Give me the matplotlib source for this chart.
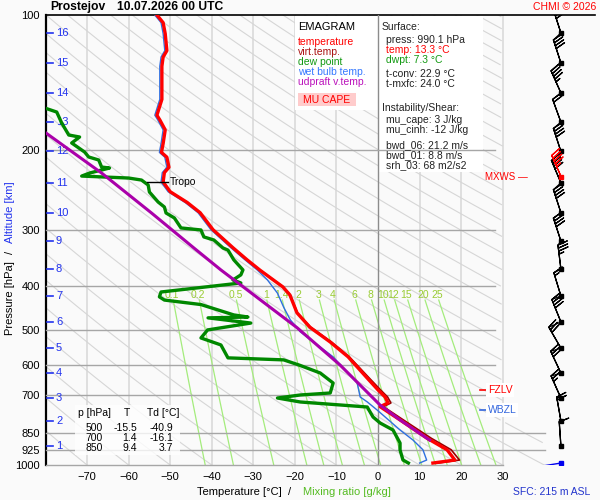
import numpy as np
import matplotlib
matplotlib.use("Agg")
import matplotlib.pyplot as plt
from matplotlib.patches import Rectangle
from matplotlib.ticker import NullLocator

plt.rcParams['font.family'] = ['Liberation Sans', 'DejaVu Sans']

# ---- sounding: Prostejov 10.07.2026 00 UTC ----
# temperature [hPa, degC]
temp_p = [100, 104, 110, 120, 124, 130, 142, 154, 167, 171, 180, 193, 202, 207,
          218, 224, 235, 247, 261, 275, 300, 329, 350, 369, 402, 419, 459, 494,
          533, 575, 641, 681, 706, 728, 742, 794, 872, 925, 975, 990]
temp_t = [-53.2, -51.7, -51.2, -50.8, -51.7, -52.0, -52.0, -52.0, -53.2, -52.5,
          -51.2, -51.7, -52.1, -50.8, -50.3, -51.4, -51.7, -50.0, -45.9, -42.8,
          -39.7, -34.9, -31.5, -28.4, -22.9, -21.2, -19.5, -16.4, -11.5, -7.2,
          -2.6, 0.0, 1.7, 2.4, 0.5, 5.3, 11.8, 16.6, 18.5, 13.2]

# virtual temperature
tv_t = [-53.2, -51.7, -51.2, -50.8, -51.7, -52.0, -52.0, -52.0, -53.2, -52.5,
        -51.2, -51.7, -52.1, -50.8, -50.3, -51.4, -51.7, -50.0, -45.9, -42.8,
        -39.7, -34.9, -31.5, -28.4, -22.8, -21.1, -19.4, -16.2, -11.2, -6.9,
        -2.1, 0.6, 2.3, 3.1, 1.3, 6.1, 12.8, 17.6, 19.6, 14.4]

# dew point
dwpt_p = [160, 164.3, 173.8, 184.8, 186.7, 192.5, 201.6, 206.8, 210.0, 217.7,
          218.8, 224.5, 228.0, 230.3, 232.7, 238.7, 247.4, 260.4, 267.1, 275.4,
          282.5, 297.3, 300.4, 311.3, 316.2, 329.4, 333, 350, 368.6, 378, 388,
          394, 412.6, 423, 430, 440, 464, 469, 471, 483.7, 501, 522, 541, 578,
          584, 600, 624.6, 657.4, 691.8, 698.9, 709.8, 724.4, 743.2, 782.2,
          806.6, 836.0, 893.6, 926.2, 974.7, 990]
dwpt_t = [-81.0, -77.3, -76.1, -74.4, -71.8, -73.7, -70.6, -69.6, -67.2, -66.5,
          -64.6, -69.4, -71.3, -60.0, -56.9, -55.3, -55.0, -52.9, -51.4, -51.0,
          -49.0, -47.4, -42.6, -41.9, -39.5, -37.3, -36.1, -34.7, -32.5, -33.0,
          -34.9, -33.0, -52.2, -52.6, -51.4, -42.6, -34.7, -31.3, -40.9, -30.6,
          -41.0, -42.6, -37.8, -36.1, -22.7, -18.9, -13.9, -10.8, -11.5, -18.7,
          -24.2, -18.7, -2.6, -1.2, 0.5, 3.6, 5.3, 5.3, 6.0, 7.3]

# wet bulb temperature
wb_p = [100, 104, 110, 120, 124, 130, 142, 154, 167, 171, 180, 193, 202, 207,
        218, 224, 235, 247, 261, 275, 300, 329, 350, 369, 388, 415, 446, 476,
        496, 506, 575, 658, 706, 724, 755, 836, 880, 925, 975, 990]
wb_t = [-53.7, -52.2, -51.7, -51.3, -52.2, -52.5, -52.5, -52.5, -53.7, -53.0,
        -51.7, -52.2, -52.6, -51.3, -50.8, -51.9, -52.2, -50.5, -46.4, -43.3,
        -40.2, -35.4, -32.0, -29.0, -26.6, -24.2, -22.7, -21.1, -19.4, -18.7,
        -10.8, -5.0, -4.3, -2.6, -0.2, 5.3, 8.4, 10.8, 11.7, 10.0]

# most unstable parcel (updraft virtual temperature)
parcel_p = [182.6, 224.5, 275.4, 329.4, 368.6, 496, 600, 736, 794, 880]
parcel_t = [-80.0, -66.5, -54.5, -44.3, -37.8, -19.4, -9.1, 0.5, 5.3, 12.4]

# wind at 1..16 km (pressure of each km level), direction [deg], speed [m/s]
km_levels = list(range(1, 17))
km_p = [907, 798, 710, 625, 550, 481, 421, 367, 318, 275, 236, 201, 173, 149,
        127.8, 109.6]
wind_dir = [356, 350, 336, 335, 330, 338, 343, 353, 342, 342, 337, 342, 340,
            336, 342, 342]
wind_spd = [5, 10, 12.5, 15, 15, 20, 7.5, 17.5, 20, 20, 20, 20, 10, 22.5, 20, 20]
mxws_p, mxws_dir, mxws_spd = 229, 336, 22.5
sfc_p, sfc_dir = 990.1, 261

tropo_p = 235
fzlv_p = 681
wbzl_p = 755

table_p = [500, 700, 850]
table_t = [-15.5, 1.4, 9.4]
table_td = [-40.9, -16.1, 3.7]

pressure_ticks = [100, 200, 300, 400, 500, 600, 700, 850, 925, 1000]
temp_ticks = list(range(-70, 31, 10))
mix_ratios = [0.1, 0.2, 0.5, 1, 1.4, 2, 3, 4, 6, 8, 10, 12, 15, 20, 25]
mix_labels = ['0.1', '0.2', '0.5', '1', '1.4', '2', '3', '4', '6', '8', '10',
              '12', '15', '20', '25']

W, H = 600, 500


def fx(x):
    return x / W


def fy(y):
    return 1 - y / H


bg = '#fafafa'
fig = plt.figure(figsize=(6, 5), dpi=100, facecolor=bg)
ax = fig.add_axes([fx(45.5), fy(465), (595 - 45.5) / W, 450 / H])
ax.set_facecolor(bg)
ax.set_yscale('log')
ax.set_ylim(1000, 100)
ax.set_xlim(-80, 52.2)

for s in ['right', 'bottom']:
    ax.spines[s].set_visible(False)
ax.spines['left'].set_linewidth(1.6)
ax.spines['top'].set_linewidth(1.2)
ax.set_yticks(pressure_ticks)
ax.set_yticklabels([str(p) for p in pressure_ticks])
ax.yaxis.set_minor_locator(NullLocator())
ax.set_xticks(temp_ticks)
ax.tick_params(axis='y', length=0, pad=4, labelsize=8)
ax.tick_params(axis='x', length=0, pad=5, labelsize=8)

# isotherms
for t in temp_ticks:
    if t == 0:
        ax.plot([t, t], [1000, 100], color='#8c8c8c', lw=1, zorder=3)
    else:
        ax.plot([t, t], [1000, 100], color='#dadada', lw=1.2, zorder=1)

# isobars
for p in pressure_ticks[1:]:
    right = 28.2
    if p in (850, 925):
        right = 40.2
    if p == 1000:
        right = 30
    ax.plot([-80, right], [p, p], color='#a6a6a6', lw=1, zorder=3, clip_on=False)

# dry adiabats
pp = np.logspace(2, 3, 300)
for th in range(-80, 330, 10):
    tt = (th + 273.15) * (pp / 1000.0) ** 0.2857 - 273.15
    tmax = np.where(pp < 800, 30, 40)
    tt = np.where(tt > tmax, np.nan, tt)
    ax.plot(tt, pp, color='#d6d6d6', lw=0.8, zorder=1)

# saturation mixing ratio lines
pm = np.linspace(430, 1000, 60)
for w, lab in zip(mix_ratios, mix_labels):
    e = w * pm / (622.0 + w)
    lg = np.log(e / 6.112)
    ax.plot(243.5 * lg / (17.67 - lg), pm, color='#a4ec7c', lw=0.9, zorder=1)
    e0 = w * 419 / (622.0 + w)
    l0 = np.log(e0 / 6.112)
    ax.text(243.5 * l0 / (17.67 - l0), 419, lab, color='#99cc33', fontsize=7.5,
            ha='center', va='center', zorder=1.5)


def box(x0, y0, x1, y1, color='white', alpha=1.0, z=2):
    ax.add_patch(Rectangle((fx(x0), fy(y1)), (x1 - x0) / W, (y1 - y0) / H,
                           transform=fig.transFigure, facecolor=color,
                           edgecolor='none', alpha=alpha, zorder=z))


def ftext(x, y, s, **kw):
    kw.setdefault('fontsize', 7.5)
    kw.setdefault('va', 'center')
    kw.setdefault('zorder', 4)
    ax.text(fx(x), fy(y), s, transform=fig.transFigure, **kw)


# legend box
box(295, 16, 378, 110)
ftext(298, 27, 'EMAGRAM', fontsize=8, color='black')
ftext(298, 42, 'temperature', color='#ff0000')
ftext(298, 52, 'virt.temp.', color='#aa1111')
ftext(298, 62, 'dew point', color='#119911')
ftext(298, 72, 'wet bulb temp.', color='#3377ff')
ftext(298, 82, 'udpraft v.temp.', color='#bb11bb')
box(298, 93, 356, 106, color='#ffcccc', z=2.5)
ftext(327, 100, 'MU CAPE', color='#ff0000', ha='center')

# surface / instability box
box(378, 16, 483, 172)
ftext(382, 27, 'Surface:', color='#222222')
ftext(386, 40, 'press: %.1f hPa' % sfc_p, color='#222222')
ftext(386, 50, 'temp: 13.3 °C', color='#ff0000')
ftext(386, 60, 'dwpt: 7.3 °C', color='#119911')
ftext(386, 74, 't-conv: 22.9 °C', color='#222222')
ftext(386, 84, 't-mxfc: 24.0 °C', color='#222222')
ftext(382, 108, 'Instability/Shear:', color='#222222')
ftext(386, 120, 'mu_cape: 3 J/kg', color='#222222')
ftext(386, 130, 'mu_cinh: -12 J/kg', color='#222222')
ftext(386, 145, 'bwd_06: 21.2 m/s', color='#222222')
ftext(386, 155, 'bwd_01: 8.8 m/s', color='#222222')
ftext(386, 165, 'srh_03: 68 m2/s2', color='#222222')

# table box
box(75, 405, 180, 455, alpha=0.8, z=3.5)
ftext(78, 413, 'p [hPa]', zorder=4)
ftext(127, 413, 'T', ha='center')
ftext(147, 413, 'Td [°C]')
for i, (p, t, td) in enumerate(zip(table_p, table_t, table_td)):
    yy = 428 + 10 * i
    ftext(103, yy, str(p), ha='right')
    ftext(137, yy, '%.1f' % t, ha='right')
    ftext(173, yy, '%.1f' % td, ha='right')

# altitude scale
ytr = ax.get_yaxis_transform()
for km, p in zip(km_levels, km_p):
    ax.plot([0.003, 0.0145], [p, p], transform=ytr, color='#2233ee', lw=1.2,
            zorder=5)
    ax.text(0.019, p, str(km), transform=ytr, color='#2233ee', fontsize=8,
            va='center', zorder=5)

# profiles
ax.plot(tv_t, temp_p, color='#990000', lw=1.2, zorder=5)
ax.plot(wb_t, wb_p, color='#2f6fe0', lw=1, zorder=5.5)
ax.plot(temp_t, temp_p, color='#ff0000', lw=2.4, zorder=6)
ax.plot(dwpt_t, dwpt_p, color='#008800', lw=2.4, zorder=6)
ax.plot(parcel_t, parcel_p, color='#aa00aa', lw=2.2, zorder=7)

# tropopause
ax.plot([-55.6, -50.6], [tropo_p, tropo_p], color='black', lw=1, zorder=8)
ax.text(-50.2, tropo_p, 'Tropo', fontsize=7.5, va='center', zorder=8)

# freezing / wet bulb zero levels
ax.plot([24.5, 26.2], [fzlv_p, fzlv_p], color='#ff0000', lw=1.2, zorder=8)
ax.text(26.4, fzlv_p, 'FZLV', color='#ff0000', fontsize=7.5, va='center',
        zorder=8, bbox=dict(facecolor='white', edgecolor='none', pad=1.2))
ax.plot([24.5, 26.2], [wbzl_p, wbzl_p], color='#3366dd', lw=1.2, zorder=8)
ax.text(26.4, wbzl_p, 'WBZL', color='#3366dd', fontsize=7.5, va='center',
        zorder=8, bbox=dict(facecolor='white', edgecolor='none', pad=1.2))
ax.text(36.0, mxws_p, 'MXWS \u2014', color='#ff0000', fontsize=7, va='center',
        ha='right', zorder=8)

# wind barbs (barb polygons are scaled by length/2 points, staff = length units)
barb_x = 44.0
blen = 5.9
staff_px = blen * blen / 2 * fig.dpi / 72
incr = dict(half=2.5, full=5, flag=25)
d = np.radians(wind_dir)
spd = np.array(wind_spd)
ax.barbs(np.full(len(km_p), barb_x), km_p, -spd * np.sin(d), -spd * np.cos(d),
         length=blen, lw=0.9, color='black', barb_increments=incr, zorder=8)
ax.plot(np.full(len(km_p), barb_x), km_p, 's', color='black', ms=2.5, zorder=9)

disp = ax.transData.transform(np.column_stack([np.full(len(km_p), barb_x), km_p]))
tails = disp + staff_px * np.column_stack([np.sin(d), np.cos(d)])
inv = ax.transData.inverted()
for k in range(len(km_p) - 1):
    seg = inv.transform(np.vstack([tails[k], disp[k + 1]]))
    ax.plot(seg[:, 0], seg[:, 1], color='black', lw=0.9, zorder=8)

dm = np.radians(mxws_dir)
ax.barbs([barb_x], [mxws_p], [-mxws_spd * np.sin(dm)], [-mxws_spd * np.cos(dm)],
         length=blen, lw=0.9, color='#ff0000', barb_increments=incr, zorder=9)
ax.plot([barb_x], [mxws_p], 's', color='#ff0000', ms=2.5, zorder=9)

ds = np.radians(sfc_dir)
s0 = ax.transData.transform([barb_x, sfc_p])
s1 = s0 + 25 * np.array([np.sin(ds), np.cos(ds)])
seg = inv.transform(np.vstack([s0, s1]))
ax.plot(seg[:, 0], seg[:, 1], color='#0000ee', lw=1, zorder=8)
ax.plot([barb_x], [sfc_p], 's', color='#0000ee', ms=2.5, zorder=9)

# outer texts
fig.text(fx(50), fy(7), 'Prostejov', fontsize=8.7, fontweight='bold', va='center')
fig.text(fx(117), fy(7), '10.07.2026 00 UTC', fontsize=8.7, fontweight='bold',
         va='center')
fig.text(fx(596), fy(7), 'CHMI © 2026', fontsize=7.5, color='#ff0000',
         ha='right', va='center')
fig.text(fx(10), fy(298), 'Pressure [hPa]', rotation=90, fontsize=8,
         ha='center', va='center')
fig.text(fx(10), fy(252), '/', rotation=90, fontsize=8, ha='center', va='center')
fig.text(fx(10), fy(212), 'Altitude [km]', rotation=90, fontsize=8,
         color='#2233ee', ha='center', va='center')
fig.text(fx(197), fy(492), 'Temperature [°C]', fontsize=8, va='center')
fig.text(fx(288), fy(492), '/', fontsize=8, va='center')
fig.text(fx(303), fy(492), 'Mixing ratio [g/kg]', fontsize=8, va='center',
         color='#55bb22')
fig.text(fx(590), fy(492), 'SFC: 215 m ASL', fontsize=7.5, va='center',
         ha='right', color='#2233cc')

fig.savefig('out.png', dpi=100, facecolor=bg)
